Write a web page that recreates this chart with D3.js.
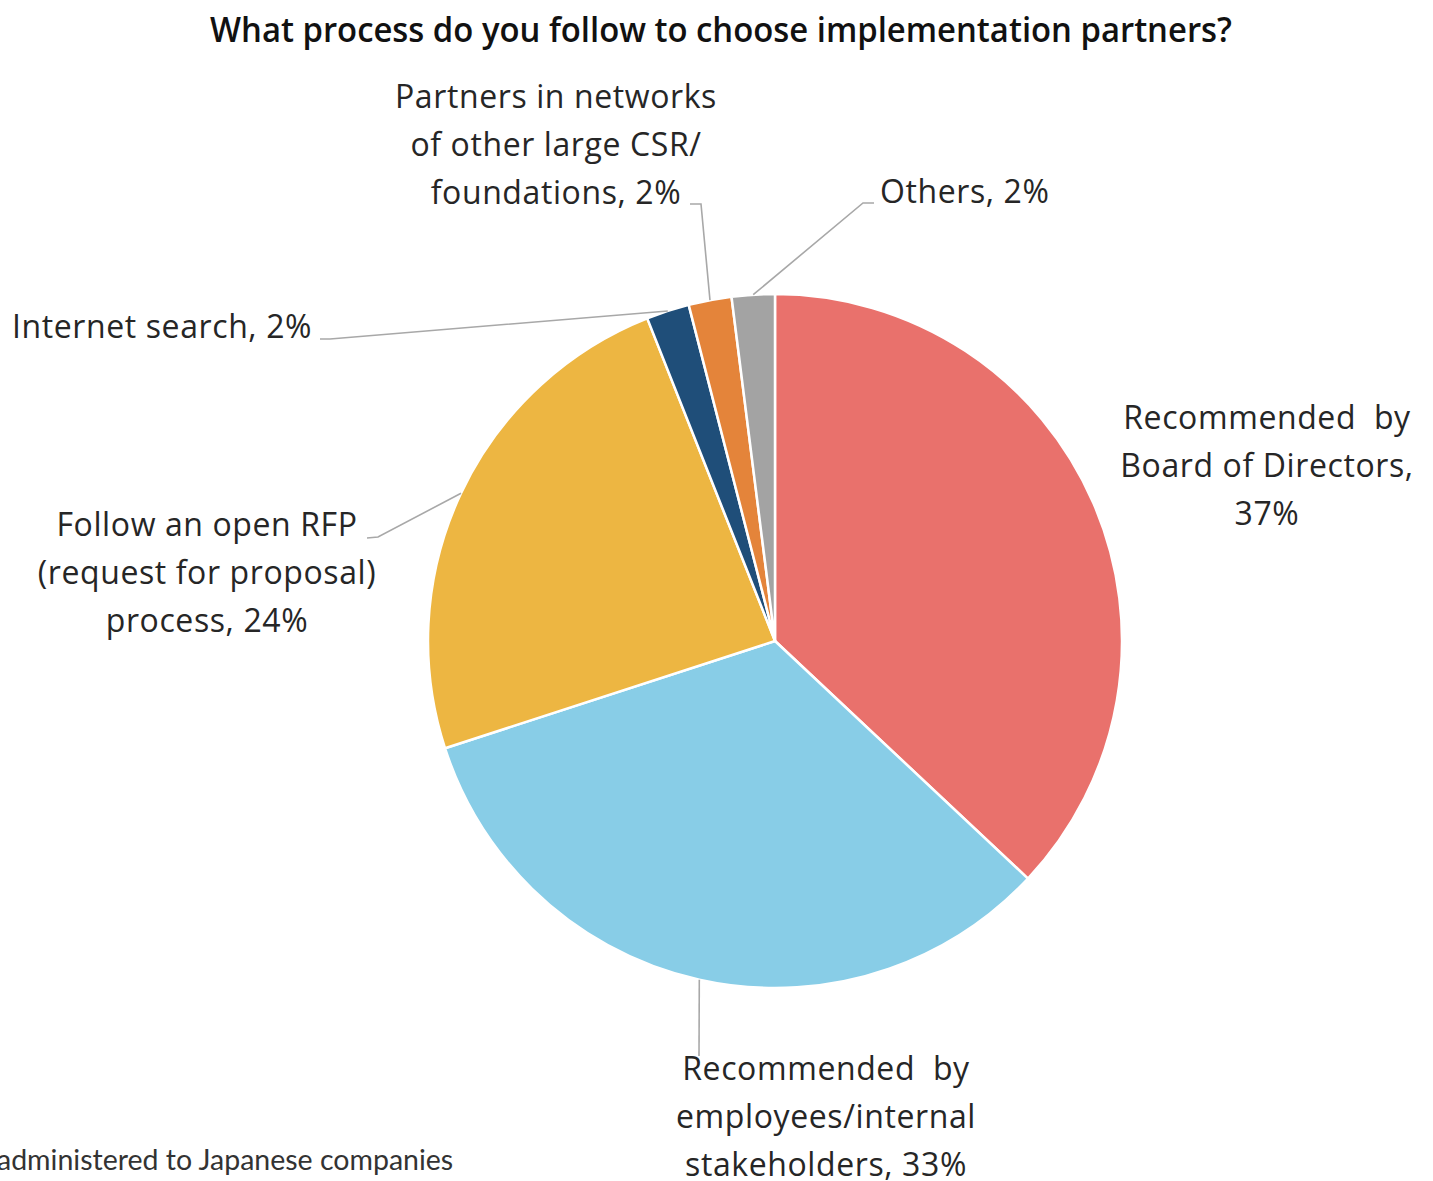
<!DOCTYPE html>
<html>
<head>
<meta charset="utf-8">
<script src="https://cdn.jsdelivr.net/npm/d3@7"></script>
<style>
  html, body { margin: 0; padding: 0; background: #fff; }
  svg { display: block; }
</style>
</head>
<body>
<svg id="chart" width="1433" height="1181"></svg>
<script>
// Survey answers: how companies choose implementation partners (share of respondents, %)
const categories = [
  "Recommended by Board of Directors",
  "Recommended by employees/internal stakeholders",
  "Follow an open RFP (request for proposal) process",
  "Internet search",
  "Partners in networks of other large CSR/ foundations",
  "Others"
];
const values = [37, 33, 24, 2, 2, 2];
const sliceColors = ["#E9716C", "#88CDE7", "#EDB642", "#1F4E79", "#E4843A", "#A3A3A3"];

// Label text as broken into lines on the chart
const labelLines = [
  ["Recommended  by", "Board of Directors,", "37%"],
  ["Recommended  by", "employees/internal", "stakeholders, 33%"],
  ["Follow an open RFP", "(request for proposal)", "process, 24%"],
  ["Internet search, 2%"],
  ["Partners in networks", "of other large CSR/", "foundations, 2%"],
  ["Others, 2%"]
];

const title = "What process do you follow to choose implementation partners?";
const footnote = "administered to Japanese companies";

// ---- layout ----
const cx = 775, cy = 641, radius = 347;
const lineGap = 48;
const labelLayout = [
  { x: 1267, y: 429, anchor: "middle", leader: null },
  { x: 826,  y: 1080, anchor: "middle", leader: [[699, 1056]] },
  { x: 207,  y: 536, anchor: "middle", leader: [[378, 537], [367, 538]] },
  { x: 12,   y: 338, anchor: "start",  leader: [[330, 339], [320, 339]] },
  { x: 556,  y: 108, anchor: "middle", leader: [[701, 204], [690, 204]] },
  { x: 880,  y: 203, anchor: "start",  leader: [[863, 203], [874, 203]] }
];

const svg = d3.select("#chart");
const labelFont = "'Open Sans', 'Noto Sans', sans-serif";

svg.append("text")
  .attr("x", 721).attr("y", 42)
  .attr("text-anchor", "middle")
  .attr("font-family", labelFont)
  .attr("font-weight", 600)
  .attr("font-size", 34)
  .attr("fill", "#111")
  .attr("textLength", 1022)
  .attr("lengthAdjust", "spacingAndGlyphs")
  .text(title);

const pie = d3.pie().sort(null).value(d => d)(values);
const arc = d3.arc().innerRadius(0).outerRadius(radius);

const g = svg.append("g").attr("transform", `translate(${cx},${cy})`);

g.selectAll("path.slice")
  .data(pie)
  .join("path")
  .attr("class", "slice")
  .attr("d", arc)
  .attr("fill", (d, i) => sliceColors[i])
  .attr("stroke", "#fff")
  .attr("stroke-width", 2.5)
  .attr("stroke-linejoin", "round");

// leader lines start at the outer edge of each slice, at its middle angle
pie.forEach((d, i) => {
  const lay = labelLayout[i];
  if (!lay.leader) return;
  const mid = (d.startAngle + d.endAngle) / 2;
  const start = [cx + radius * Math.sin(mid), cy - radius * Math.cos(mid)];
  const pts = [start, ...lay.leader];
  svg.append("path")
    .attr("d", d3.line()(pts))
    .attr("fill", "none")
    .attr("stroke", "#A8A8A8")
    .attr("stroke-width", 1.6);
});

labelLayout.forEach((lay, i) => {
  const t = svg.append("text")
    .attr("text-anchor", lay.anchor)
    .attr("font-family", labelFont)
    .attr("font-size", 32)
    .attr("letter-spacing", 0.6)
    .attr("fill", "#262626")
    .attr("xml:space", "preserve");
  labelLines[i].forEach((ln, k) => {
    t.append("tspan")
      .attr("x", lay.x)
      .attr("y", lay.y + k * lineGap)
      .text(ln);
  });
});

svg.append("text")
  .attr("x", -3).attr("y", 1170)
  .attr("font-family", "Lato, 'Noto Sans', sans-serif")
  .attr("font-size", 28.5)
  .attr("fill", "#333")
  .text(footnote);
</script>
</body>
</html>
